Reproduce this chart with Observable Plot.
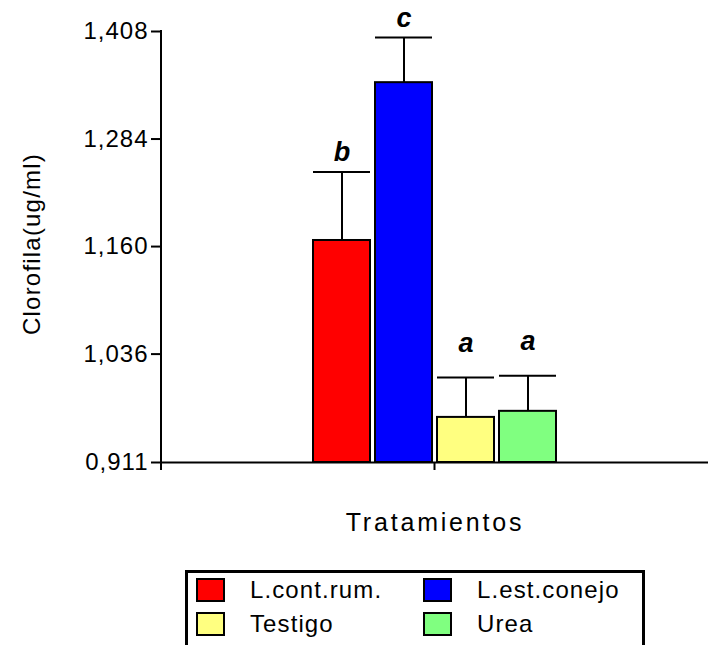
<!DOCTYPE html>
<html>
<head>
<meta charset="utf-8">
<script src="https://cdn.jsdelivr.net/npm/d3@7"></script>
<script src="https://cdn.jsdelivr.net/npm/@observablehq/plot@0.6"></script>
<style>
  body { margin: 0; background: #fff; font-family: "Liberation Sans", Arial, sans-serif; }
  #wrap { position: relative; width: 708px; height: 645px; overflow: hidden; background: #fff; }
  #chart svg { display: block; }
  .legend {
    position: absolute; left: 185px; top: 570px; width: 446px; height: 100px;
    border: 3px solid #000; padding: 5px 0 0 8px;
    display: grid; grid-template-columns: 227px 227px; grid-auto-rows: 33.7px;
  }
  .item { display: flex; align-items: flex-start; }
  .sw { box-sizing: border-box; width: 29px; height: 24px; border: 2px solid #000; flex: none; }
  .lab { margin-left: 25px; font-size: 24px; line-height: 24px; letter-spacing: 1.1px; color: #000; white-space: nowrap; }
</style>
</head>
<body>
<div id="wrap">
  <div id="chart"></div>
  <div class="legend" id="legend"></div>
</div>
<script>
// ---- data ----
const treatments = ["L.cont.rum.", "L.est.conejo", "Testigo", "Urea"];
const means      = [1.167, 1.349, 0.963, 0.970];
const errors     = [0.079, 0.052, 0.046, 0.041];
const letters    = ["b", "c", "a", "a"];
const colors     = ["#ff0000", "#0000ff", "#ffff80", "#80ff80"];
const yTicks      = [0.911, 1.036, 1.160, 1.284, 1.408];
const yTickLabels = ["0,911", "1,036", "1,160", "1,284", "1,408"];
const yLabel = "Clorofila(ug/ml)";
const xLabel = "Tratamientos";

const rows = treatments.map((t, i) => ({
  name: t, mean: means[i], se: errors[i], top: means[i] + errors[i], letter: letters[i], color: colors[i]
}));
const tickLabel = new Map(yTicks.map((v, i) => [v, yTickLabels[i]]));
const base = yTicks[0];

const axisLines = (index, scales, values, dims) => {
  const g = d3.create("svg:g").attr("stroke", "#000").attr("stroke-width", 2);
  const x0 = dims.marginLeft, yb = dims.height - dims.marginBottom;
  g.append("line").attr("x1", x0).attr("x2", x0).attr("y1", dims.marginTop - 1).attr("y2", yb + 8);
  const cx = (dims.marginLeft + dims.width - dims.marginRight) / 2;
  g.append("line").attr("x1", cx).attr("x2", cx).attr("y1", yb).attr("y2", yb + 8);
  return g.node();
};

const plot = Plot.plot({
  width: 708,
  height: 550,
  marginTop: 31,
  marginBottom: 88,
  marginLeft: 161,
  marginRight: 0,
  style: { fontFamily: "'Liberation Sans', Arial, sans-serif", fontSize: "24px", color: "#000", background: "#fff" },
  x: { domain: treatments, paddingInner: 0.08, paddingOuter: 2.42, axis: null },
  y: { domain: [yTicks[0], yTicks[yTicks.length - 1]], axis: null },
  marks: [
    Plot.barY(rows, { x: "name", y1: base, y2: "mean", fill: d => d.color, stroke: "#000", strokeWidth: 2 }),
    Plot.ruleX(rows, { x: "name", y1: "mean", y2: "top", stroke: "#000", strokeWidth: 2 }),
    Plot.tickY(rows, { x: "name", y: "top", stroke: "#000", strokeWidth: 2 }),
    Plot.text(rows.filter(d => d.letter !== "a"), { x: "name", y: "top", text: "letter", lineAnchor: "bottom", dy: -11, fontSize: 27, fontWeight: "bold", fontStyle: "italic", fill: "#000" }),
    Plot.text(rows.filter(d => d.letter === "a"), { x: "name", y: "top", text: "letter", lineAnchor: "bottom", dy: -26, fontSize: 27, fontWeight: "bold", fontStyle: "italic", fill: "#000" }),
    Plot.ruleY([base], { stroke: "#000", strokeWidth: 2 }),
    Plot.axisY(yTicks, { tickSize: 10, tickPadding: 3, tickFormat: d => tickLabel.get(d), strokeWidth: 2, fontSize: 24, fill: "#000", label: null }),
    axisLines,
    Plot.text([yLabel], { frameAnchor: "left", textAnchor: "middle", rotate: -90, dx: -129, dy: -3, fontSize: 24, fill: "#000", lineAnchor: "middle" }),
    Plot.text([xLabel], { frameAnchor: "bottom", textAnchor: "middle", dy: 60, fontSize: 25, fill: "#000", lineAnchor: "middle" })
  ]
});

d3.select(plot).selectAll("text").each(function () {
  const t = this.textContent;
  if (t === xLabel) this.setAttribute("letter-spacing", "2.8px");
  else if (t === yLabel) this.setAttribute("letter-spacing", "1.2px");
  else if (yTickLabels.includes(t)) this.setAttribute("letter-spacing", "1px");
});

document.getElementById("chart").appendChild(plot);

const legend = d3.select("#legend");
rows.forEach(d => {
  const it = legend.append("div").attr("class", "item");
  it.append("div").attr("class", "sw").style("background", d.color);
  it.append("div").attr("class", "lab").text(d.name);
});
</script>
</body>
</html>
